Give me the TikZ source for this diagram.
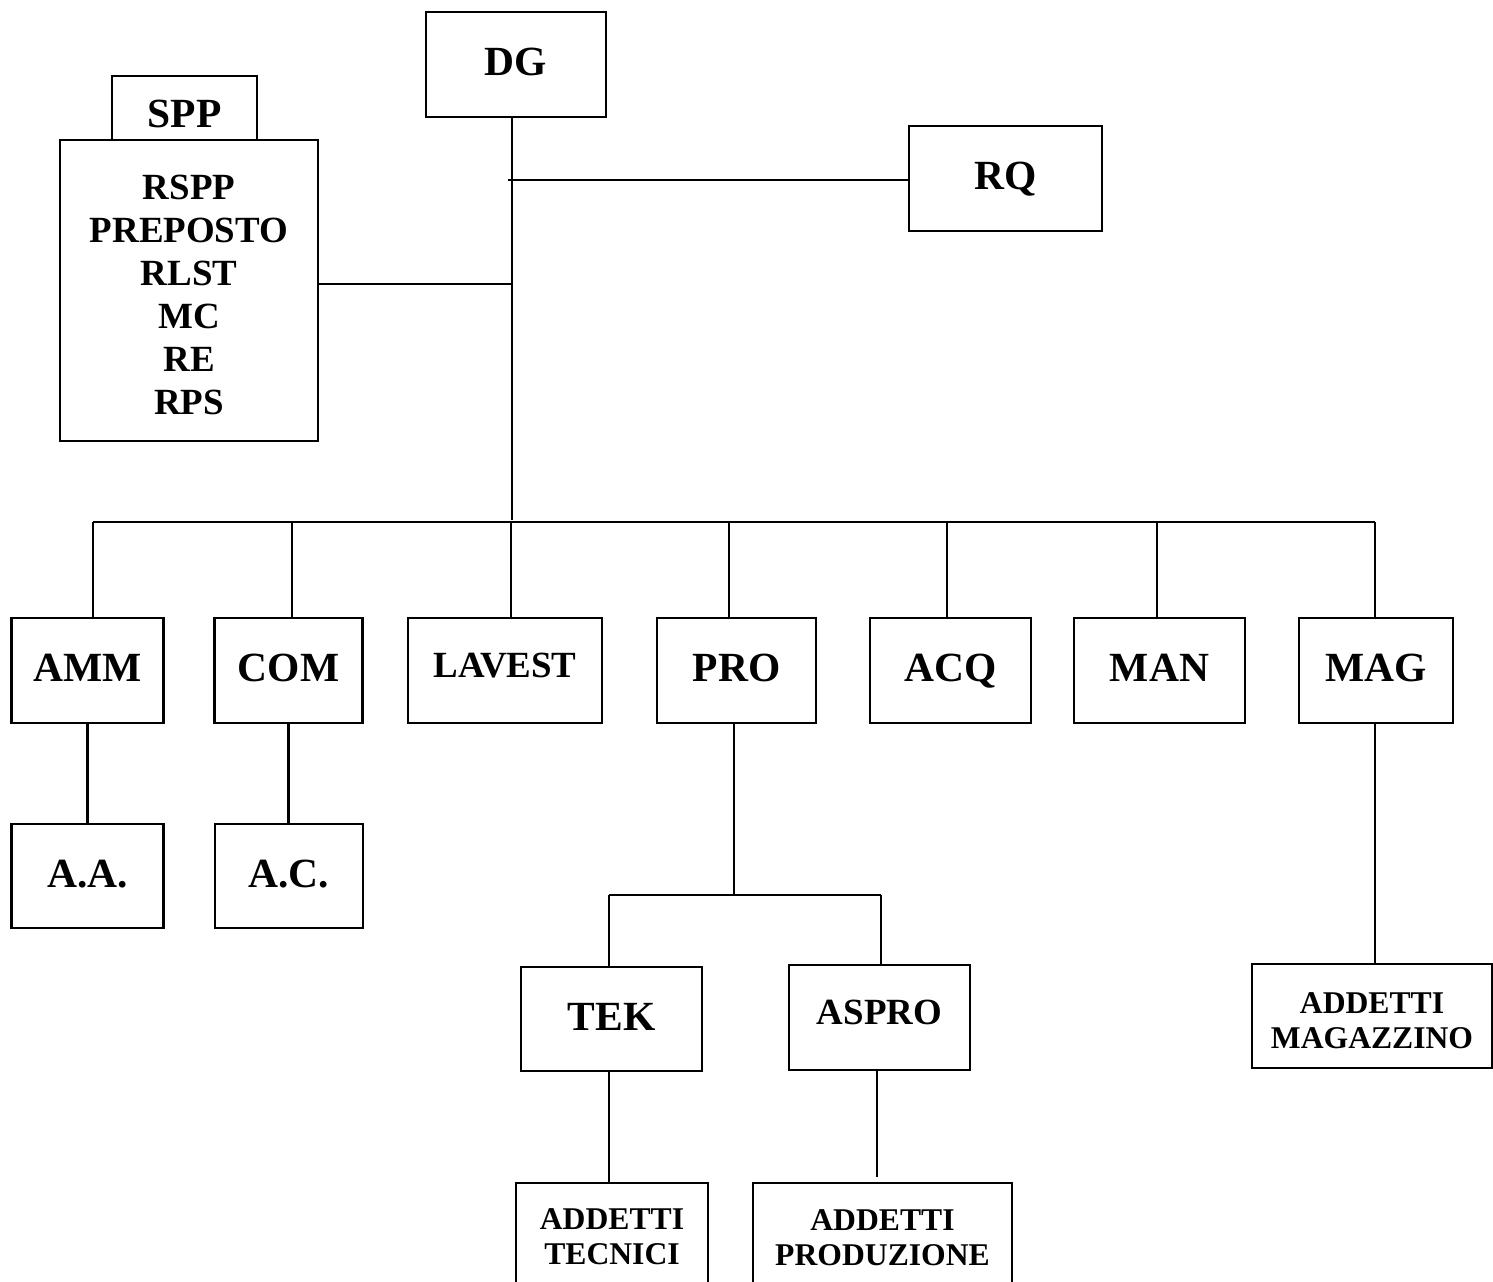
\documentclass[tikz,border=0pt]{standalone}
\usepackage{fontspec}
\setmainfont{Liberation Serif}
\usepackage{tikz}
\tikzset{
  frame/.style={draw, line width=0.8pt, inner sep=0pt, align=center},
  box/.style={frame, font=\bfseries\fontsize{11.8}{14}\selectfont, text height=7.8pt, text depth=1.5pt},
  midbox/.style={frame, font=\bfseries\fontsize{10.5}{12}\selectfont, text height=7pt, text depth=3pt},
  listbox/.style={frame, font=\bfseries\fontsize{10.5}{12.2}\selectfont},
  staffbox/.style={frame, font=\bfseries\fontsize{9}{10}\selectfont},
  link/.style={line width=0.6pt},
}
\newcommand{\orgbox}[7]{\node[#1, minimum width=#5*0.01cm, minimum height=#6*0.01cm] (#2) at (#3,#4) {#7};}

\begin{document}
\begin{tikzpicture}[x=0.01cm,y=-0.01cm]
  \clip (0,0) rectangle (1493,1281);
  \orgbox{box}{dg}{516}{64.5}{180}{105}{DG}
  \orgbox{box, text height=11.2pt, text depth=0pt}{spp}{184.5}{108}{145}{64}{SPP}
  \orgbox{listbox}{sic}{189}{290.5}{258}{301}{\rule{0pt}{9.5pt}RSPP\\PREPOSTO\\RLST\\MC\\RE\\RPS}
  \orgbox{box}{rq}{1005.5}{178.5}{193}{105}{RQ}
  \foreach \nm/\cx/\w/\lbl in {amm/87.5/152/AMM, com/288.5/148/COM, pro/736.5/159/PRO,
      acq/950.5/161/ACQ, man/1159.5/171/MAN, mag/1376/154/MAG}
    {\orgbox{box}{\nm}{\cx}{670.5}{\w}{105}{\lbl}}
  \orgbox{midbox}{lavest}{505}{670.5}{194}{105}{LAVEST}
  \orgbox{box}{aa}{87.5}{876}{152}{104}{A.A.}
  \orgbox{box}{ac}{289}{876}{148}{104}{A.C.}
  \orgbox{box}{tek}{611.5}{1019}{181}{104}{TEK}
  \orgbox{midbox}{aspro}{879.5}{1017.5}{181}{105}{ASPRO}
  \orgbox{staffbox}{addmag}{1372}{1016}{240}{104}{\rule{0pt}{8.8pt}ADDETTI\\MAGAZZINO}
  \orgbox{staffbox}{addtec}{612}{1237}{192}{108}{ADDETTI\\TECNICI}
  \orgbox{staffbox}{addpro}{882.5}{1238}{259}{110}{ADDETTI\\PRODUZIONE}

  \coordinate (dgfoot) at (512,117);
  \coordinate (busmid) at (512,520);
  \coordinate (rqj) at (508,180);
  \coordinate (sicj) at (512,284);
  \coordinate (busl) at (93,522);
  \coordinate (busr) at (1375,522);
  \coordinate (subbus) at (734,895);
  \coordinate (subl) at (609,895);
  \coordinate (subr) at (881,895);

  \draw[link] (dgfoot) -- (busmid);
  \draw[link] (rqj) -- (rqj -| rq.west);
  \draw[link] (sic.east |- sicj) -- (sicj);
  \draw[link] (busl) -- (busr);
  \foreach \nm/\dx in {amm/93, com/292, lavest/511, pro/729, acq/947, man/1157, mag/1375}
    \draw[link] (busl -| \dx,0) -- (\nm.north -| \dx,0);
  \draw[link] (amm.south) -- (aa.north);
  \draw[link] (com.south) -- (com.south |- ac.north);
  \draw[link] (pro.south -| subbus) -- (subbus);
  \draw[link] (subl) -- (subr);
  \draw[link] (subl) -- (subl |- tek.north);
  \draw[link] (subr) -- (subr |- aspro.north);
  \draw[link] (tek.south -| subl) -- (subl |- addtec.north);
  \draw[link, shorten >=0.05cm] (aspro.south -| 877,0) -- (addpro.north -| 877,0);
  \draw[link] (mag.south -| busr) -- (busr |- addmag.north);
\end{tikzpicture}
\end{document}
